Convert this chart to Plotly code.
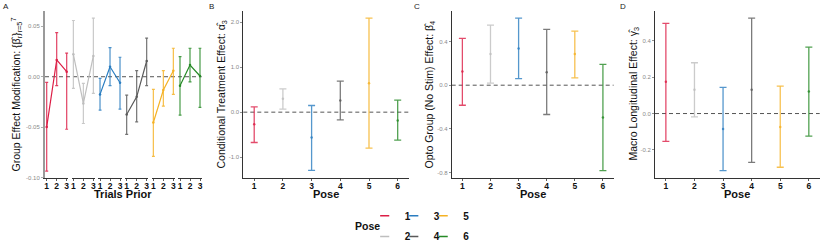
import plotly.graph_objects as go

W, H = 822, 247

def px(x):
    return x / W

def py(y):
    return 1 - y / H

# ---------------- data ----------------
pose_names = ["1", "2", "3", "4", "5", "6"]
pose_colors = ["#DC1E46", "#BEBEBE", "#2A7DC0", "#5A5A5A", "#F5B224", "#268A26"]
trials_prior = [1, 2, 3]

# Panel A: group effect modification, per pose, trials prior 1..3
a_est = [
    [-0.0497, 0.0166, 0.0050],
    [0.0222, -0.0265, 0.0206],
    [-0.0175, 0.0099, -0.0060],
    [-0.0374, -0.0199, 0.0156],
    [-0.0453, -0.0132, 0.0060],
    [-0.0089, 0.0116, 0.0007],
]
a_low = [
    [-0.0934, -0.0089, -0.0520],
    [-0.0115, -0.0463, -0.0165],
    [-0.0331, -0.0089, -0.0320],
    [-0.0570, -0.0447, -0.0089],
    [-0.0788, -0.0291, -0.0175],
    [-0.0380, -0.0050, -0.0304],
]
a_high = [
    [-0.0056, 0.0437, 0.0233],
    [0.0557, -0.0066, 0.0580],
    [-0.0016, 0.0288, 0.0193],
    [-0.0182, 0.0060, 0.0382],
    [-0.0125, 0.0060, 0.0282],
    [0.0199, 0.0282, 0.0282],
]

# Panel B: conditional treatment effect alpha_3
b_est = [-0.267, 0.296, -0.563, 0.259, 0.644, -0.185]
b_low = [-0.674, 0.067, -1.296, -0.170, -0.800, -0.622]
b_high = [0.119, 0.519, 0.148, 0.689, 2.089, 0.267]

# Panel C: opto group (no stim) effect beta_4
c_est = [0.126, 0.285, 0.337, 0.119, 0.285, -0.297]
c_low = [-0.184, 0.018, 0.061, -0.269, 0.067, -0.784]
c_high = [0.429, 0.551, 0.615, 0.511, 0.496, 0.190]

# Panel D: macro longitudinal effect gamma_3
d_est = [0.175, 0.131, -0.085, 0.131, -0.074, 0.121]
d_low = [-0.153, -0.018, -0.315, -0.269, -0.296, -0.125]
d_high = [0.497, 0.280, 0.144, 0.526, 0.151, 0.366]

a_yticks = [-0.10, -0.05, 0.00, 0.05]
a_yticktext = ["-0.10", "-0.05", "0.00", "0.05"]
b_yticks = [-1.0, 0.0, 1.0, 2.0]
b_yticktext = ["-1.0", "0.0", "1.0", "2.0"]
c_yticks = [-0.8, -0.4, 0.0, 0.4]
c_yticktext = ["-0.8", "-0.4", "0.0", "0.4"]
d_yticks = [-0.2, 0.0, 0.2, 0.4]
d_yticktext = ["-0.2", "0.0", "0.2", "0.4"]
pose_x = [1, 2, 3, 4, 5, 6]


def rgba(hexc, a):
    h = hexc.lstrip("#")
    r, g, b = int(h[0:2], 16), int(h[2:4], 16), int(h[4:6], 16)
    return f"rgba({r},{g},{b},{a})"


FONT = "Liberation Sans, Arial, sans-serif"
fig = go.Figure()

# ---------------- panel A traces ----------------
for i in range(6):
    est = a_est[i]
    up = [h - e for h, e in zip(a_high[i], est)]
    dn = [e - l for e, l in zip(est, a_low[i])]
    xa = "x" if i == 0 else f"x{i + 1}"
    fig.add_trace(go.Scatter(
        x=trials_prior, y=est, xaxis=xa, yaxis="y",
        mode="lines+markers",
        line=dict(color=pose_colors[i], width=1.2),
        marker=dict(color=pose_colors[i], size=2.5),
        error_y=dict(type="data", array=up, arrayminus=dn, symmetric=False,
                     color=rgba(pose_colors[i], 0.85), thickness=1.2, width=1.5),
        showlegend=False, cliponaxis=False,
    ))

# ---------------- panels B, C, D ----------------
panels = [
    (b_est, b_low, b_high, "x7", "y2"),
    (c_est, c_low, c_high, "x8", "y3"),
    (d_est, d_low, d_high, "x9", "y4"),
]
for est, low, high, xa, ya in panels:
    for i in range(6):
        fig.add_trace(go.Scatter(
            x=[pose_x[i]], y=[est[i]], xaxis=xa, yaxis=ya,
            mode="markers",
            marker=dict(color=rgba(pose_colors[i], 0.8), size=2.5),
            error_y=dict(type="data", array=[high[i] - est[i]],
                         arrayminus=[est[i] - low[i]], symmetric=False,
                         color=rgba(pose_colors[i], 0.8), thickness=1.3, width=3.5),
            showlegend=False, cliponaxis=False,
        ))

# ---------------- legend entries (one legend box per key, 2 rows x 3 cols) ----------------
legend_names = ["legend", "legend2", "legend3", "legend4", "legend5", "legend6"]
for i in range(6):
    fig.add_trace(go.Scatter(
        x=[None], y=[None], xaxis="x7", yaxis="y2",
        mode="markers", name=pose_names[i],
        marker=dict(symbol="line-ew-open", size=6.5, color=pose_colors[i],
                    line=dict(color=pose_colors[i], width=1.5)),
        legend=legend_names[i],
        showlegend=True,
    ))

# ---------------- layout ----------------
TOP, BOT = 10.5, 178.3
ydom = [py(BOT), py(TOP)]

axis_line = "#333333"
tick_font = dict(family=FONT, size=6, color="#8a8a8a")
xtick_font = dict(family=FONT, size=8.5, color="#111111", weight="bold")

layout = dict(
    width=W, height=H,
    margin=dict(l=0, r=0, t=0, b=0, autoexpand=False),
    paper_bgcolor="white", plot_bgcolor="white",
    font=dict(family=FONT),
)

# panel A facets
facet_w, facet_step, a_left = 23.4, 26.66, 45.0
for i in range(6):
    name = "xaxis" if i == 0 else f"xaxis{i + 1}"
    l = a_left + i * facet_step
    layout[name] = dict(
        domain=[px(l), px(l + facet_w)], anchor="y",
        range=[0.83, 3.17], tickvals=trials_prior,
        ticktext=[str(t) for t in trials_prior],
        showline=True, linecolor=axis_line, linewidth=1,
        ticks="outside", ticklen=2, tickcolor=axis_line, tickwidth=0.8,
        ticklabelstandoff=-3,
        tickfont=xtick_font, showgrid=False, zeroline=False, fixedrange=True,
    )
layout["yaxis"] = dict(
    domain=ydom, anchor="x", range=[-0.1006, 0.0656],
    tickvals=a_yticks, ticktext=a_yticktext,
    showline=True, linecolor="#9a9a9a", linewidth=2,
    ticks="outside", ticklen=2, tickcolor="#9a9a9a", tickwidth=0.8,
    tickfont=tick_font, showgrid=False, zeroline=False,
)

# panels B, C, D
bcd = [
    ("xaxis7", "yaxis2", "x7", "y2", 243.3, 408.6, [-1.47, 2.26], b_yticks, b_yticktext),
    ("xaxis8", "yaxis3", "x8", "y3", 451.7, 613.6, [-0.854, 0.685], c_yticks, c_yticktext),
    ("xaxis9", "yaxis4", "x9", "y4", 655.0, 819.7, [-0.357, 0.568], d_yticks, d_yticktext),
]
for xn, yn, xr, yr, l, r, yrange, tv, tt in bcd:
    layout[xn] = dict(
        domain=[px(l), px(r)], anchor=yr, range=[0.62, 6.38],
        tickvals=pose_x, ticktext=pose_names,
        showline=True, linecolor=axis_line, linewidth=1,
        ticks="outside", ticklen=2, tickcolor=axis_line, tickwidth=0.8,
        ticklabelstandoff=-3,
        tickfont=xtick_font, showgrid=False, zeroline=False,
    )
    layout[yn] = dict(
        domain=ydom, anchor=xr, range=yrange,
        tickvals=tv, ticktext=tt,
        showline=True, linecolor=axis_line, linewidth=1,
        ticks="outside", ticklen=2, tickcolor="#777777", tickwidth=0.8,
        tickfont=tick_font, showgrid=False, zeroline=False,
    )

# legends: one per key, placed on a 3x2 grid
leg_common = dict(orientation="h", xanchor="left", yanchor="middle",
                  xref="container", yref="container",
                  bgcolor="rgba(0,0,0,0)", borderwidth=0,
                  font=dict(family=FONT, size=10, color="#111111", weight="bold"),
                  itemclick=False, itemdoubleclick=False)
key_cols = [384.7, 384.7, 413.8, 413.8, 443.2, 443.2]
key_rows = [215.7, 236.4, 215.7, 236.4, 215.7, 236.4]
for i, ln in enumerate(legend_names):
    layout[ln] = dict(leg_common, x=px(key_cols[i] - 20), y=py(key_rows[i]))

fig.update_layout(**layout)

# dashed zero reference lines
dash_line = dict(color="#555555", width=1, dash="4px,3px")
fig.add_shape(type="line", xref="paper", yref="y", x0=px(45), x1=px(201.7),
              y0=0, y1=0, line=dash_line, layer="below")
for xr, yr in [("x7", "y2"), ("x8", "y3"), ("x9", "y4")]:
    fig.add_shape(type="line", xref=f"{xr} domain", yref=yr, x0=0, x1=1,
                  y0=0, y1=0, line=dash_line, layer="below")

# annotations: panel letters, axis titles
ann = []
for letter, x in [("A", 6), ("B", 211.7), ("C", 416.7), ("D", 622.7)]:
    ann.append(dict(text=letter, x=px(x), y=py(6.5), xref="paper", yref="paper",
                    xanchor="center", yanchor="middle", showarrow=False,
                    font=dict(family=FONT, size=8, color="#222222")))

ytitles = [
    ("Group Effect Modification: {β̂<sub>r</sub>}<sub>r=5</sub><sup>7</sup>", 16),
    ("Conditional Treatment Effect: α̂<sub>3</sub>", 221),
    ("Opto Group (No Stim) Effect: β̂<sub>4</sub>", 429),
    ("Macro Longitudinal Effect: γ̂<sub>3</sub>", 633),
]
for t, x in ytitles:
    ann.append(dict(text=t, x=px(x), y=py(94.5), xref="paper", yref="paper",
                    xanchor="center", yanchor="middle", textangle=-90,
                    showarrow=False,
                    font=dict(family=FONT, size=10.5, color="#111111")))

xtitles = [("Trials Prior", 123.4), ("Pose", 326.0), ("Pose", 532.7), ("Pose", 737.4)]
for t, x in xtitles:
    ann.append(dict(text=t, x=px(x), y=py(193.5), xref="paper", yref="paper",
                    xanchor="center", yanchor="middle", showarrow=False,
                    font=dict(family=FONT, size=11, color="#111111", weight="bold")))

ann.append(dict(text="Pose", x=px(367), y=py(226), xref="paper", yref="paper",
                xanchor="center", yanchor="middle", showarrow=False,
                font=dict(family=FONT, size=10.5, color="#111111", weight="bold")))

fig.update_layout(annotations=ann)

fig.write_html("out.html",
               config={"displayModeBar": False, "staticPlot": True},
               post_script="document.body.style.margin='0';document.body.style.padding='0';")
